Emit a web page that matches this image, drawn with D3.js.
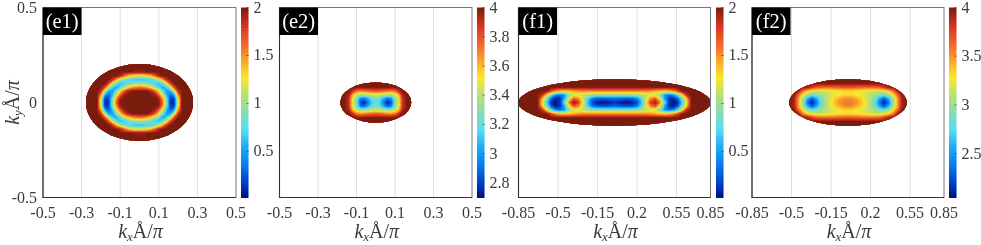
<!DOCTYPE html>
<html>
<head>
<meta charset="utf-8">
<script src="https://cdn.jsdelivr.net/npm/d3@7"></script>
<style>
    html, body { margin: 0; padding: 0; background: #fff; }
    svg { display: block; }
    text { font-family: "Liberation Serif", serif; fill: #3a3a3a; }
    text.tag { fill: #fff; font-size: 20.5px; }
    text.tick { font-size: 16px; }
    text.name { font-size: 20px; }
    text.name tspan.it { font-style: italic; }
</style>
</head>
<body>
<div id="chart"></div>
<script>
// tick labels
var ticksE = [-0.5, -0.3, -0.1, 0.1, 0.3, 0.5];
var ticksF = [-0.85, -0.5, -0.15, 0.2, 0.55, 0.85];
var ticksY = [-0.5, 0, 0.5];
var barTicks2 = [0.5, 1, 1.5, 2];
var barTicksE2 = [2.8, 3, 3.2, 3.4, 3.6, 3.8, 4];
var barTicksF2 = [2.5, 3, 3.5, 4];

// colour stops of the bar, bottom to top
var jetStops = ['#06107e', '#0348d0', '#0a80ee', '#1fb0f2', '#58dcf0', '#88dcb0', '#bce070', '#fbe629', '#f7a42c', '#ef5f2a', '#d2301e', '#7a1c10'];

// one quarter of each map, read by eye: rows go up from ky=0, columns go right from kx=0
var e1 = [
    [2, 2, 2, 2, 2, 2, 1.65, 0.9, 0.14, 0.12, 1.15, 2, 2, 2, 2],
    [2, 2, 2, 2, 2, 1.95, 1.5, 0.85, 0.2, 0.18, 1.2, 2, 2, 2, 2],
    [2, 2, 2, 2, 1.95, 1.65, 1.2, 0.6, 0.3, 0.55, 1.5, 2, 2, 2, 2],
    [2, 2, 2, 1.9, 1.65, 1.3, 0.85, 0.5, 0.55, 1.15, 1.85, 2, 2, 2, 2],
    [1.6, 1.55, 1.45, 1.25, 1, 0.75, 0.55, 0.75, 1.15, 1.75, 2, 2, 2, 2, 2],
    [0.95, 0.95, 0.9, 0.8, 0.7, 0.65, 0.85, 1.2, 1.75, 2, 2, 2, 2, 2, 2],
    [0.65, 0.65, 0.7, 0.75, 0.9, 1.1, 1.45, 1.85, 2, 2, 2, 2, 2, 2, 2],
    [1.2, 1.2, 1.25, 1.4, 1.65, 1.9, 2, 2, 2, 2, 2, 2, 2, 2, 2],
    [1.95, 1.95, 2, 2, 2, 2, 2, 2, 2, 2, 2, 2, 2, 2, 2],
    [2, 2, 2, 2, 2, 2, 2, 2, 2, 2, 2, 2, 2, 2, 2],
    [2, 2, 2, 2, 2, 2, 2, 2, 2, 2, 2, 2, 2, 2, 2]
];
var e2 = [
    [3.22, 3.15, 2.95, 2.74, 2.85, 3.25, 3.5, 3.9, 4, 4, 4],
    [3.28, 3.22, 3.05, 2.9, 2.95, 3.3, 3.52, 3.9, 4, 4, 4],
    [3.45, 3.45, 3.4, 3.35, 3.35, 3.45, 3.62, 3.95, 4, 4, 4],
    [3.8, 3.78, 3.76, 3.72, 3.7, 3.75, 3.9, 4, 4, 4, 4],
    [4, 4, 4, 4, 4, 4, 4, 4, 4, 4, 4],
    [4, 4, 4, 4, 4, 4, 4, 4, 4, 4, 4]
];
var f1 = [
    [0.15, 0.1, 0.07, 0.05, 0.1, 0.25, 0.65, 1.25, 1.8, 1.98, 1.6, 0.9, 0.2, 0.06, 0.12, 0.7, 1.3, 2, 2, 2, 2, 2, 2],
    [0.3, 0.28, 0.25, 0.25, 0.28, 0.4, 0.75, 1.2, 1.55, 1.7, 1.25, 0.6, 0.15, 0.08, 0.3, 0.9, 1.4, 2, 2, 2, 2, 2, 2],
    [0.95, 0.95, 0.95, 0.95, 0.95, 1, 1.05, 1.15, 1.2, 1.15, 1, 0.5, 0.35, 0.45, 0.8, 1.3, 1.85, 2, 2, 2, 2, 2, 2],
    [1.55, 1.55, 1.55, 1.55, 1.55, 1.55, 1.55, 1.55, 1.5, 1.45, 1.4, 1.35, 1.4, 1.5, 1.75, 2, 2, 2, 2, 2, 2, 2, 2],
    [2, 2, 2, 2, 2, 2, 2, 2, 2, 2, 2, 2, 2, 2, 2, 2, 2, 2, 2, 2, 2, 2, 2],
    [2, 2, 2, 2, 2, 2, 2, 2, 2, 2, 2, 2, 2, 2, 2, 2, 2, 2, 2, 2, 2, 2, 2],
    [2, 2, 2, 2, 2, 2, 2, 2, 2, 2, 2, 2, 2, 2, 2, 2, 2, 2, 2, 2, 2, 2, 2]
];
var f2 = [
    [3.6, 3.58, 3.52, 3.4, 3.25, 3.08, 2.8, 2.4, 2.1, 2.4, 3, 3.5, 3.95, 4, 4],
    [3.56, 3.53, 3.45, 3.36, 3.22, 3.08, 2.88, 2.55, 2.3, 2.6, 3.05, 3.5, 3.95, 4, 4],
    [3.35, 3.33, 3.3, 3.25, 3.18, 3.1, 3.02, 2.92, 2.85, 3.05, 3.3, 3.65, 4, 4, 4],
    [3.32, 3.32, 3.3, 3.28, 3.25, 3.22, 3.2, 3.2, 3.25, 3.35, 3.6, 3.95, 4, 4, 4],
    [3.7, 3.7, 3.68, 3.65, 3.65, 3.65, 3.65, 3.7, 3.8, 3.95, 4, 4, 4, 4, 4],
    [4, 4, 4, 4, 4, 4, 4, 4, 4, 4, 4, 4, 4, 4, 4],
    [4, 4, 4, 4, 4, 4, 4, 4, 4, 4, 4, 4, 4, 4, 4]
];

var panels = [
    { tag: '(e1)', left: 43, right: 236, barLeft: 241, values: e1, dx: 0.02, dy: 0.02, rx: 0.277, ry: 0.202, xMax: 0.5, ticks: ticksE, range: [0.02, 2], barTicks: barTicks2 },
    { tag: '(e2)', left: 279.5, right: 472, barLeft: 477, values: e2, dx: 0.02, dy: 0.02, rx: 0.184, ry: 0.105, xMax: 0.5, ticks: ticksE, range: [2.7, 4], barTicks: barTicksE2 },
    { tag: '(f1)', left: 518.5, right: 710.5, barLeft: 716, values: f1, dx: 0.04, dy: 0.02, rx: 0.85, ry: 0.122, xMax: 0.85, ticks: ticksF, range: [0.02, 2], barTicks: barTicks2 },
    { tag: '(f2)', left: 752, right: 944, barLeft: 949, values: f2, dx: 0.04, dy: 0.02, rx: 0.52, ry: 0.122, xMax: 0.85, ticks: ticksF, range: [2.05, 4], barTicks: barTicksF2 }
];

var width = 981, height = 245, top_ = 7.5, bottom = 197.5, barWidth = 7.5;

var svg = d3.select('#chart').append('svg').attr('width', width).attr('height', height);

// the reference is a slightly soft raster
svg.append('defs').append('filter').attr('id', 'soft')
    .attr('filterUnits', 'userSpaceOnUse')
    .attr('x', 0).attr('y', 0).attr('width', width).attr('height', height)
    .append('feGaussianBlur').attr('stdDeviation', 0.35);

var root = svg.append('g').attr('filter', 'url(#soft)');

// mirror a quarter into the full grid, bottom row first
function fullGrid(q) {
    var rows = q.map(function (r) { return r.slice(1).reverse().concat(r); });
    return rows.slice(1).reverse().concat(rows);
}

function axisName(sel, letter) {
    sel.append('tspan').attr('class', 'it').text('k');
    sel.append('tspan').attr('class', 'it').attr('dy', 3).attr('font-size', 13).text(letter);
    sel.append('tspan').attr('dy', -3).text('Å/');
    sel.append('tspan').attr('class', 'it').text('π');
}

panels.forEach(function (p, idx) {
    var g = root.append('g');
    var x = d3.scaleLinear().domain([-p.xMax, p.xMax]).range([p.left, p.right]);
    var y = d3.scaleLinear().domain([-0.5, 0.5]).range([bottom, top_]);
    var c = d3.scaleLinear()
        .domain(d3.quantize(d3.interpolate(p.range[0], p.range[1]), jetStops.length))
        .range(jetStops);

    // gridlines
    g.selectAll('.grid').data(p.ticks.slice(1, -1)).enter().append('line')
        .attr('x1', function (d) { return x(d); }).attr('x2', function (d) { return x(d); })
        .attr('y1', top_).attr('y2', bottom)
        .attr('stroke', '#dedede').attr('stroke-width', 1);

    // map
    var grid = fullGrid(p.values);
    var nj = grid.length, ni = grid[0].length;
    var flat = d3.merge(grid);
    var cols = (ni - 1) / 2, rows = (nj - 1) / 2;
    var levels = d3.quantize(d3.interpolate(p.range[0], p.range[1]), 64);
    var contours = d3.contours().size([ni, nj]).thresholds(levels)(flat);
    var path = d3.geoPath(d3.geoTransform({
        point: function (a, b) {
            this.stream.point(x((a - 0.5 - cols) * p.dx), y((b - 0.5 - rows) * p.dy));
        }
    }));

    var clipId = 'clip' + idx;
    g.append('clipPath').attr('id', clipId).append('ellipse')
        .attr('cx', x(0)).attr('cy', y(0))
        .attr('rx', x(p.rx) - x(0)).attr('ry', y(0) - y(p.ry));

    var map = g.append('g').attr('clip-path', 'url(#' + clipId + ')');
    map.append('rect')
        .attr('x', x(-p.rx)).attr('y', y(p.ry))
        .attr('width', x(p.rx) - x(-p.rx)).attr('height', y(-p.ry) - y(p.ry))
        .attr('fill', jetStops[jetStops.length - 1]);
    map.selectAll('path').data(contours).enter().append('path')
        .attr('d', path)
        .attr('fill', function (d) { return c(d.value); });

    // axes box
    g.append('rect')
        .attr('x', p.left).attr('y', top_)
        .attr('width', p.right - p.left).attr('height', bottom - top_)
        .attr('fill', 'none').attr('stroke', '#777').attr('stroke-width', 1);
    g.append('path')
        .attr('d', 'M' + p.left + ',' + top_ + 'V' + bottom + 'H' + p.right)
        .attr('fill', 'none').attr('stroke', '#333').attr('stroke-width', 1.1);

    // x tick labels and title
    g.selectAll('.tick').data(p.ticks).enter().append('text')
        .attr('class', 'tick').attr('text-anchor', 'middle')
        .attr('x', function (d) { return x(d); }).attr('y', 218)
        .text(function (d) { return d; });

    axisName(g.append('text').attr('class', 'name').attr('text-anchor', 'middle')
        .attr('x', x(0) + 1).attr('y', 238), 'x');

    if (idx === 0) {
        g.selectAll('.ytick').data(ticksY).enter().append('text')
            .attr('class', 'tick').attr('text-anchor', 'end')
            .attr('x', 37).attr('y', function (d) { return y(d) + 5; })
            .text(function (d) { return d; });
        axisName(g.append('text').attr('class', 'name').attr('text-anchor', 'middle')
            .attr('transform', 'translate(19,' + y(0) + ') rotate(-90)'), 'y');
    }

    // panel tag
    g.append('rect').attr('x', p.left).attr('y', top_).attr('width', 38.5).attr('height', 27.5).attr('fill', '#000');
    g.append('text').attr('class', 'tag').attr('x', p.left + 19.2).attr('y', top_ + 20.5)
        .attr('text-anchor', 'middle').text(p.tag);

    // colour bar
    var b = d3.scaleLinear().domain(p.range).range([bottom, top_]);
    var steps = d3.quantize(d3.interpolate(p.range[0], p.range[1]), 65);
    g.selectAll('.cell').data(steps.slice(0, -1)).enter().append('rect')
        .attr('x', p.barLeft).attr('width', barWidth)
        .attr('y', function (d, i) { return b(steps[i + 1]); })
        .attr('height', function (d, i) { return b(d) - b(steps[i + 1]) + 0.5; })
        .attr('fill', function (d, i) { return c((d + steps[i + 1]) / 2); });
    g.selectAll('.bartick').data(p.barTicks).enter().append('text')
        .attr('class', 'tick')
        .attr('x', p.barLeft + barWidth + 5)
        .attr('y', function (d) { return Math.max(b(d) + 5, top_ + 5); })
        .text(function (d) { return d; });
    g.selectAll('.barmark').data(p.barTicks).enter().append('line')
        .attr('x1', p.barLeft + barWidth - 2).attr('x2', p.barLeft + barWidth)
        .attr('y1', function (d) { return b(d); }).attr('y2', function (d) { return b(d); })
        .attr('stroke', '#444').attr('stroke-width', 0.7);
});
</script>
</body>
</html>
